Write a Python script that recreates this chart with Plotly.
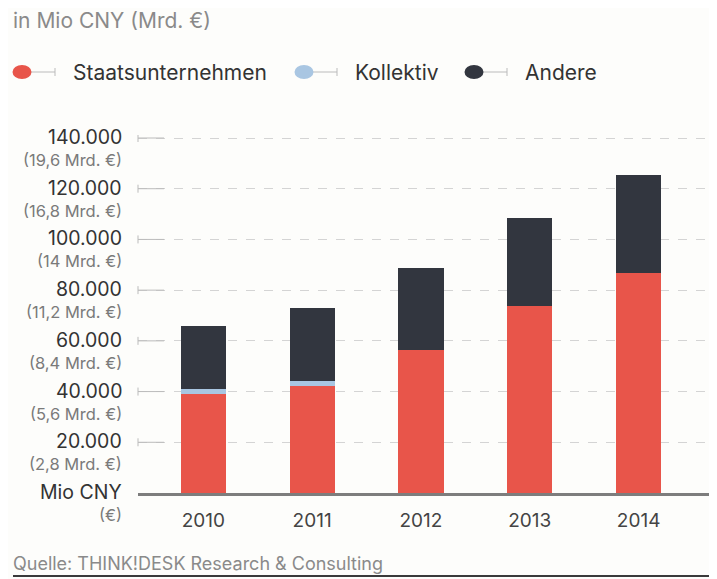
import plotly.graph_objects as go

# ---- data ----
years = ["2010", "2011", "2012", "2013", "2014"]
staatsunternehmen = [39000, 42200, 56300, 73600, 86900]
kollektiv = [1900, 2100, 0, 0, 0]
andere = [25100, 28700, 32600, 35000, 38700]

tick_vals = [20000, 40000, 60000, 80000, 100000, 120000, 140000]
tick_labels = ["20.000", "40.000", "60.000", "80.000", "100.000", "120.000", "140.000"]
eur_labels = ["(2,8 Mrd. €)", "(5,6 Mrd. €)", "(8,4 Mrd. €)", "(11,2 Mrd. €)",
              "(14 Mrd. €)", "(16,8 Mrd. €)", "(19,6 Mrd. €)"]

series_names = ["Staatsunternehmen", "Kollektiv", "Andere"]
colors = ["#E8554A", "#A9C6E2", "#32363F"]

FONT = "Inter"
BG = "#FDFDFB"

fig = go.Figure()
for name, vals, col in zip(series_names, [staatsunternehmen, kollektiv, andere], colors):
    fig.add_trace(go.Bar(x=years, y=vals, name=name, marker=dict(color=col, line=dict(width=0)),
                         width=0.415, showlegend=False))

fig.update_layout(
    width=709, height=571,
    margin=dict(l=130, r=0, t=127, b=86),
    paper_bgcolor=BG, plot_bgcolor=BG,
    barmode="stack",
    font=dict(family=FONT),
    xaxis=dict(type="category", range=[-0.6, 4.72], showgrid=False, zeroline=False,
               showline=True, linecolor="#7d7d7d", linewidth=2.5,
               ticks="", ticklabelstandoff=8,
               tickfont=dict(size=19, color="#444444", family=FONT)),
    yaxis=dict(range=[0, 141183], showticklabels=False, zeroline=False,
               showgrid=True, tickvals=tick_vals, griddash="dash",
               gridcolor="#D4D4D4", gridwidth=1),
)

NUM_SIZE = 19.5
EUR_SIZE = 16.5
EUR_SHIFT = -22

shapes = []
annotations = []
for v, lab, eur in zip(tick_vals, tick_labels, eur_labels):
    shapes.append(dict(type="line", xref="paper", yref="y", x0=0, x1=0.045, y0=v, y1=v,
                       line=dict(color="#BBBBBB", width=1)))
    shapes.append(dict(type="line", xref="paper", yref="y", xsizemode="pixel", xanchor=0,
                       x0=0, x1=0, ysizemode="pixel", yanchor=v, y0=-4, y1=4,
                       line=dict(color="#BBBBBB", width=1)))
    annotations.append(dict(xref="paper", yref="y", x=0, y=v, xshift=-14, yshift=1,
                            xanchor="right", yanchor="middle", showarrow=False, text=lab,
                            font=dict(size=NUM_SIZE, color="#333333", family=FONT)))
    annotations.append(dict(xref="paper", yref="y", x=0, y=v, xshift=-14, yshift=EUR_SHIFT,
                            xanchor="right", yanchor="middle", showarrow=False, text=eur,
                            font=dict(size=EUR_SIZE, color="#7a7a7a", family=FONT)))

annotations.append(dict(xref="paper", yref="y", x=0, y=0, xshift=-14, yshift=1,
                        xanchor="right", yanchor="middle", showarrow=False, text="Mio CNY",
                        font=dict(size=NUM_SIZE, color="#333333", family=FONT)))
annotations.append(dict(xref="paper", yref="y", x=0, y=0, xshift=-14, yshift=EUR_SHIFT,
                        xanchor="right", yanchor="middle", showarrow=False, text="(€)",
                        font=dict(size=EUR_SIZE, color="#7a7a7a", family=FONT)))

# title
annotations.append(dict(xref="paper", yref="paper", x=0, y=1, xshift=-127, yshift=115,
                        xanchor="left", yanchor="middle", showarrow=False,
                        text="in Mio CNY (Mrd. €)",
                        font=dict(size=21, color="#8a8a8a", family=FONT)))

# custom legend
leg_centers = [22, 304, 474]
for name, col, cx in zip(series_names, colors, leg_centers):
    off = cx - 138
    shapes.append(dict(type="line", xref="paper", yref="paper", xsizemode="pixel", xanchor=0,
                       x0=off, x1=off + 33, ysizemode="pixel", yanchor=1, y0=63, y1=63,
                       line=dict(color="#BBBBBB", width=1)))
    shapes.append(dict(type="line", xref="paper", yref="paper", xsizemode="pixel", xanchor=0,
                       x0=off + 33, x1=off + 33, ysizemode="pixel", yanchor=1, y0=59, y1=67,
                       line=dict(color="#BBBBBB", width=1)))
    shapes.append(dict(type="circle", xref="paper", yref="paper", xsizemode="pixel", xanchor=0,
                       x0=off - 9.5, x1=off + 9.5, ysizemode="pixel", yanchor=1, y0=56, y1=70,
                       fillcolor=col, line=dict(width=0)))
    annotations.append(dict(xref="paper", yref="paper", x=0, y=1, xshift=off + 49, yshift=63,
                            xanchor="left", yanchor="middle", showarrow=False, text=name,
                            font=dict(size=21, color="#333333", family=FONT)))

# source
annotations.append(dict(xref="paper", yref="paper", x=0, y=0, xshift=-127, yshift=-70,
                        xanchor="left", yanchor="middle", showarrow=False,
                        text="Quelle: THINK!DESK Research & Consulting",
                        font=dict(size=18, color="#8a8a8a", family=FONT)))
shapes.append(dict(type="line", xref="paper", yref="paper", xsizemode="pixel", xanchor=0,
                   x0=-125, x1=579, ysizemode="pixel", yanchor=0, y0=-83, y1=-83,
                   line=dict(color="#3a3a3a", width=2)))

fig.update_layout(shapes=shapes, annotations=annotations)
fig.write_html("out.html")
